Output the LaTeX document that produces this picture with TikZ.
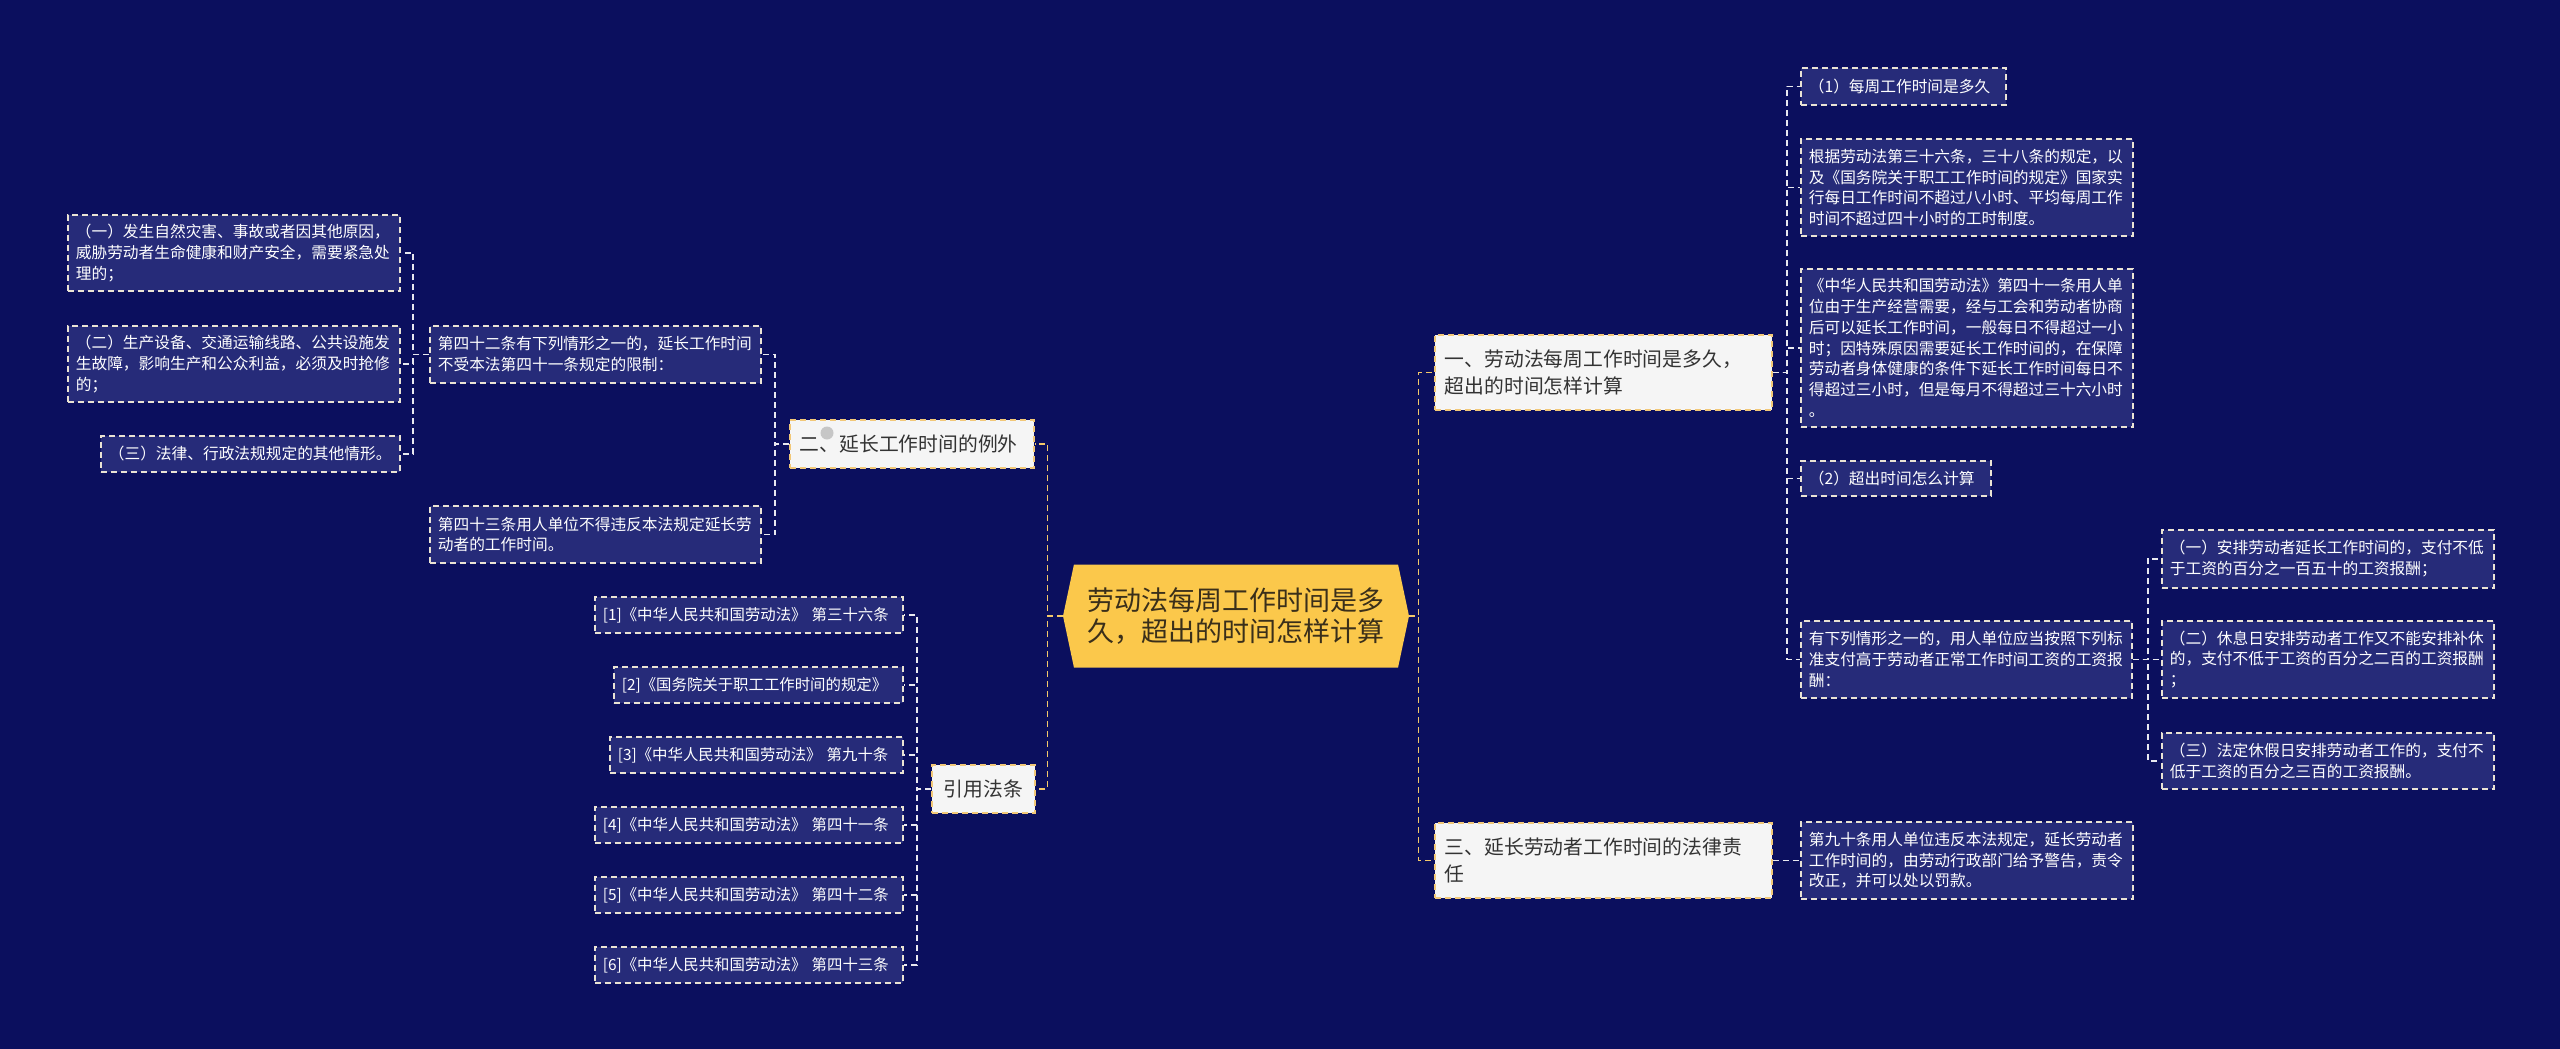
\documentclass[tikz,border=0pt]{standalone}
\usepackage{fontspec}
\setmainfont{Noto Sans CJK SC}
\usetikzlibrary{shapes.symbols}
\definecolor{bgcol}{HTML}{0B0F5E}
\definecolor{leaffill}{HTML}{262B79}
\definecolor{leafline}{HTML}{EAE3D4}
\definecolor{topfill}{HTML}{F5F5F5}
\definecolor{topline}{HTML}{F2C878}
\definecolor{toptext}{HTML}{333333}
\definecolor{cenfill}{HTML}{FBC84B}
\definecolor{centext}{HTML}{3A2F1A}
\definecolor{goldline}{HTML}{F3C86A}
\definecolor{whiteline}{HTML}{E8E8F0}
\begin{document}
\begin{tikzpicture}[x=0.5pt,y=-0.5pt,
 dashstyle/.style={line width=0.85pt, dash pattern=on 3pt off 2pt},
 leafbox/.style={dashstyle, draw=leafline, fill=leaffill, text=white, font=\fontsize{7.85pt}{10.35pt}\selectfont, inner xsep=4pt, inner ysep=1pt, align=left, anchor=north west},
 citebox/.style={leafbox, font=\fontsize{7.7pt}{10pt}\selectfont},
 topicbox/.style={dashstyle, draw=topline, fill=topfill, text=toptext, font=\fontsize{9.9pt}{13.7pt}\selectfont, inner xsep=5pt, inner ysep=1pt, align=left, anchor=north west},
 wline/.style={dashstyle, draw=whiteline},
 gline/.style={dashstyle, draw=goldline},
 tw/.style={text width=#1pt}, mh/.style={minimum height=#1pt}
]
\path[use as bounding box, fill=bgcol] (0,0) rectangle (2560,1049);

% central
\node[shape=signal, signal to=west and east, signal pointer angle=156, fill=cenfill, text=centext,
  font=\fontsize{13.5pt}{15.8pt}\selectfont, align=center, text width=150pt,
  minimum width=173pt, minimum height=51.5pt, inner sep=0pt] (M) at (1236,616)
  {劳动法每周工作时间是多\\久，超出的时间怎样计算};

% level 1
\node[topicbox, tw=112, mh=24] (E) at (789,419) {二、延长工作时间的例外};
\fill[gray!45] (827,433) circle (3.25pt);
\node[topicbox, text width=40pt, inner xsep=5.75pt, align=center, mh=24] (C) at (931,764) {引用法条};
\node[topicbox, tw=158.5, mh=37.5] (F) at (1434,334) {一、劳动法每周工作时间是多久，\\超出的时间怎样计算};
\node[topicbox, tw=158.5, mh=37.5] (G) at (1434,822) {三、延长劳动者工作时间的法律责\\任};

% left leaves
\node[leafbox, tw=157.5, mh=28.5] (B1) at (429,325) {第四十二条有下列情形之一的，延长工作时间\\不受本法第四十一条规定的限制：};
\node[leafbox, tw=157.5, mh=28.5] (B2) at (429,505) {第四十三条用人单位不得违反本法规定延长劳\\动者的工作时间。};
\node[leafbox, tw=158, mh=38] (A1) at (67,214) {（一）发生自然灾害、事故或者因其他原因，\\威胁劳动者生命健康和财产安全，需要紧急处\\理的；};
\node[leafbox, tw=158, mh=38] (A2) at (67,325) {（二）生产设备、交通运输线路、公共设施发\\生故障，影响生产和公众利益，必须及时抢修\\的；};
\node[leafbox, tw=141.5, mh=18] (A3) at (100,435) {（三）法律、行政法规规定的其他情形。};

% citations
\node[citebox, tw=146, mh=18] (R1) at (594,596) {[1]《中华人民共和国劳动法》~第三十六条};
\node[citebox, tw=136.5, mh=18] (R2) at (613,666) {[2]《国务院关于职工工作时间的规定》};
\node[citebox, tw=138.5, mh=18] (R3) at (609,736) {[3]《中华人民共和国劳动法》~第九十条};
\node[citebox, tw=146, mh=18] (R4) at (594,806) {[4]《中华人民共和国劳动法》~第四十一条};
\node[citebox, tw=146, mh=18] (R5) at (594,876) {[5]《中华人民共和国劳动法》~第四十二条};
\node[citebox, tw=146, mh=18] (R6) at (594,946) {[6]《中华人民共和国劳动法》~第四十三条};

% right leaves
\node[leafbox, tw=94.5, mh=18.5] (P1) at (1800,67) {（1）每周工作时间是多久};
\node[leafbox, tw=158, mh=48.5] (P2) at (1800,138) {根据劳动法第三十六条，三十八条的规定，以\\及《国务院关于职工工作时间的规定》国家实\\行每日工作时间不超过八小时、平均每周工作\\时间不超过四十小时的工时制度。};
\node[leafbox, tw=158, mh=79] (P3) at (1800,268) {《中华人民共和国劳动法》第四十一条用人单\\位由于生产经营需要，经与工会和劳动者协商\\后可以延长工作时间，一般每日不得超过一小\\时；因特殊原因需要延长工作时间的，在保障\\劳动者身体健康的条件下延长工作时间每日不\\得超过三小时，但是每月不得超过三十六小时\\。};
\node[leafbox, tw=87, mh=17.5] (P4) at (1800,460) {（2）超出时间怎么计算};
\node[leafbox, tw=157.5, mh=38.5] (P5) at (1800,620) {有下列情形之一的，用人单位应当按照下列标\\准支付高于劳动者正常工作时间工资的工资报\\酬：};
\node[leafbox, tw=158, mh=29] (Q1) at (2161,529) {（一）安排劳动者延长工作时间的，支付不低\\于工资的百分之一百五十的工资报酬；};
\node[leafbox, tw=158, mh=38.5] (Q2) at (2161,620) {（二）休息日安排劳动者工作又不能安排补休\\的，支付不低于工资的百分之二百的工资报酬\\；};
\node[leafbox, tw=158, mh=28] (Q3) at (2161,732) {（三）法定休假日安排劳动者工作的，支付不\\低于工资的百分之三百的工资报酬。};
\node[leafbox, tw=158, mh=38.5] (H) at (1800,821) {第九十条用人单位违反本法规定，延长劳动者\\工作时间的，由劳动行政部门给予警告，责令\\改正，并可以处以罚款。};

% connectors
\draw[gline] (M.west) -- ++(-15,0) |- (E.east);
\draw[gline] (M.west) -- ++(-15,0) |- (C.east);
\draw[gline] (M.east) -- ++(9,0) |- (F.west);
\draw[gline] (M.east) -- ++(9,0) |- (G.west);
\draw[wline] (E.west) -- ++(-14,0) |- (B1.east);
\draw[wline] (E.west) -- ++(-14,0) |- (B2.east);
\foreach \n in {A1,A2,A3} \draw[wline] (B1.west) -- ++(-16,0) |- (\n.east);
\foreach \n in {R1,R2,R3,R4,R5,R6} \draw[wline] (C.west) -- ++(-14,0) |- (\n.east);
\foreach \n in {P1,P2,P3,P4,P5} \draw[wline] (F.east) -- ++(14,0) |- (\n.west);
\foreach \n in {Q1,Q2,Q3} \draw[wline] (P5.east) -- ++(15,0) |- (\n.west);
\draw[wline] (G.east) -- (H.west);
\end{tikzpicture}
\end{document}
